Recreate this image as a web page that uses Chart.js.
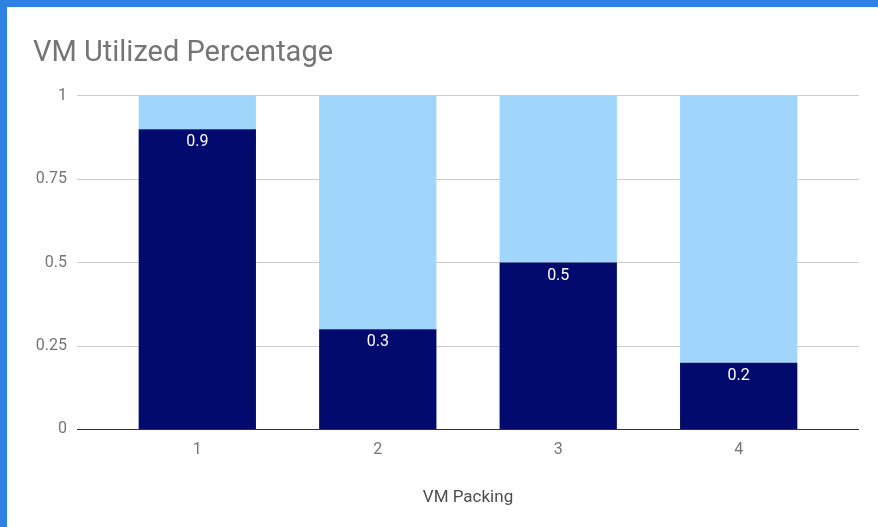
<!DOCTYPE html>
<html>
<head>
<meta charset="utf-8">
<title>VM Utilized Percentage</title>
<script src="https://cdn.jsdelivr.net/npm/chart.js@4/dist/chart.umd.min.js"></script>
<style>
  html, body { margin: 0; padding: 0; }
  body { background: #2d82e3; width: 878px; height: 527px; overflow: hidden; }
  #card { position: absolute; left: 7px; top: 7px; width: 871px; height: 520px; background: #fff; }
</style>
</head>
<body>
<div id="card"><canvas id="chart"></canvas></div>
<script>
// data
const packings = [1, 2, 3, 4];
const utilized = [0.9, 0.3, 0.5, 0.2];
const unused = [0.1, 0.7, 0.5, 0.8];
const yTicks = [0, 0.25, 0.5, 0.75, 1];

const FONT = 'Roboto, "Noto Sans", sans-serif';

// white value labels just inside the top of the dark bars
const valueLabels = {
    id: 'valueLabels',
    afterDatasetsDraw(chart) {
        const ctx = chart.ctx;
        const meta = chart.getDatasetMeta(0);
        ctx.save();
        ctx.fillStyle = '#ffffff';
        ctx.font = '16px ' + FONT;
        ctx.textAlign = 'center';
        ctx.textBaseline = 'middle';
        meta.data.forEach((bar, i) => {
            ctx.fillText(String(utilized[i]), bar.x, bar.y + 13);
        });
        ctx.restore();
    }
};

new Chart(document.getElementById('chart'), {
    type: 'bar',
    data: {
        datasets: [
            {
                label: 'Utilized',
                data: packings.map((p, i) => ({ x: p, y: utilized[i] })),
                backgroundColor: '#020b6d',
                barPercentage: 0.65,
                categoryPercentage: 1
            },
            {
                label: 'Unused',
                data: packings.map((p, i) => ({ x: p, y: unused[i] })),
                backgroundColor: '#a0d6fb',
                barPercentage: 0.65,
                categoryPercentage: 1
            }
        ]
    },
    options: {
        responsive: true,
        maintainAspectRatio: false,
        animation: false,
        layout: { padding: { left: 26, right: 19, top: 0, bottom: 19 } },
        plugins: {
            legend: { display: false },
            tooltip: { enabled: false },
            title: {
                display: true,
                text: 'VM Utilized Percentage',
                align: 'start',
                color: '#757575',
                font: { family: FONT, size: 29, weight: 'normal' },
                padding: { top: 29, bottom: 25 }
            }
        },
        scales: {
            x: {
                type: 'linear',
                stacked: true,
                offset: false,
                min: packings[0] - 2 / 3,
                max: packings[packings.length - 1] + 2 / 3,
                grid: { display: false, drawTicks: false },
                border: { display: false },
                ticks: {
                    stepSize: 1,
                    includeBounds: false,
                    padding: 11,
                    color: '#757575',
                    font: { family: FONT, size: 16 }
                },
                title: {
                    display: true,
                    text: 'VM Packing',
                    color: '#4d4d4d',
                    font: { family: FONT, size: 17 },
                    padding: { top: 17, bottom: 0 }
                }
            },
            y: {
                stacked: true,
                min: yTicks[0],
                max: yTicks[yTicks.length - 1],
                afterFit: (scale) => { scale.width = 44; },
                grid: {
                    drawTicks: false,
                    color: (c) => (c.tick && c.tick.value === 0 ? '#333333' : '#cccccc')
                },
                border: { display: false },
                ticks: {
                    stepSize: yTicks[1] - yTicks[0],
                    padding: 10,
                    color: '#757575',
                    font: { family: FONT, size: 16 },
                    callback: (v) => String(v)
                }
            }
        }
    },
    plugins: [valueLabels]
});
</script>
</body>
</html>
